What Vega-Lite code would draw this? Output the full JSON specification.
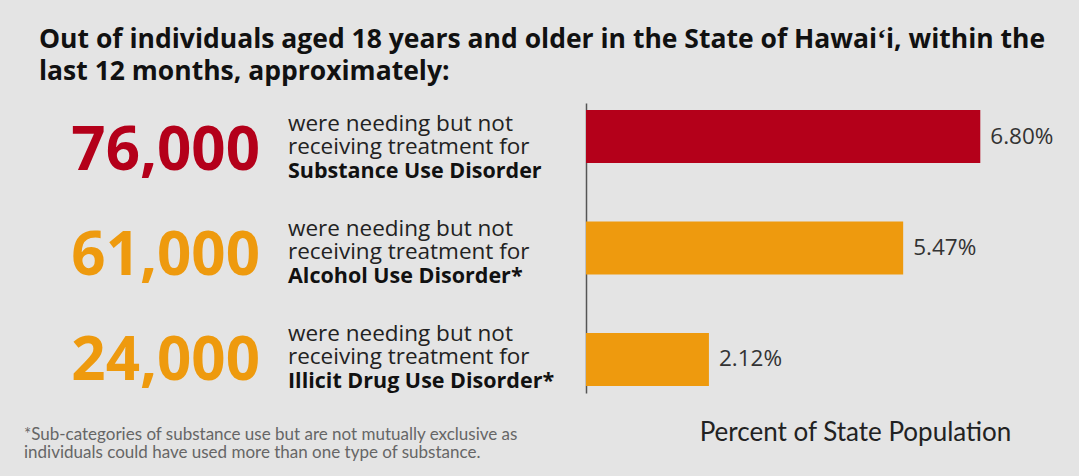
{
  "$schema": "https://vega.github.io/schema/vega-lite/v6.json",
  "background": "#e4e4e4",
  "padding": {"left": 24, "top": 26, "right": 10, "bottom": 18},
  "bounds": "flush",
  "spacing": 28,
  "title": {
    "text": ["Out of individuals aged 18 years and older in the State of Hawaiʻi, within the", "last 12 months, approximately:"],
    "anchor": "start",
    "frame": "group",
    "dx": 15,
    "font": "Open Sans",
    "fontSize": 26.5,
    "fontWeight": "bold",
    "color": "#111111",
    "lineHeight": 32,
    "offset": 18
  },
  "data": {
    "values": [
      {"condition": "Substance Use Disorder", "people": 76000, "share": 0.068},
      {"condition": "Alcohol Use Disorder*", "people": 61000, "share": 0.0547},
      {"condition": "Illicit Drug Use Disorder*", "people": 24000, "share": 0.0212}
    ]
  },
  "resolve": {"scale": {"x": "independent", "y": "independent"}},
  "hconcat": [
    {
      "width": 236,
      "height": 294,
      "title": {
        "text": ["*Sub-categories of substance use but are not mutually exclusive as", "individuals could have used more than one type of substance."],
        "orient": "bottom",
        "anchor": "start",
        "frame": "group",
        "font": "Lato",
        "fontSize": 17,
        "fontWeight": "normal",
        "color": "#666666",
        "lineHeight": 18,
        "offset": 30
      },
      "mark": {"type": "text", "font": "Open Sans", "fontSize": 60, "fontWeight": "bold", "align": "right", "baseline": "middle", "dy": 7},
      "encoding": {
        "x": {"value": "width"},
        "y": {"field": "condition", "type": "nominal", "sort": null, "scale": {"type": "point", "padding": 0.4}, "axis": null},
        "text": {"field": "people", "type": "quantitative", "format": ","},
        "color": {
          "field": "condition", "type": "nominal", "sort": null,
          "scale": {"domain": ["Substance Use Disorder", "Alcohol Use Disorder*", "Illicit Drug Use Disorder*"], "range": ["#b4001a", "#ee9a0e", "#ee9a0e"]},
          "legend": null
        }
      }
    },
    {
      "width": 270,
      "height": 294,
      "layer": [
        {
          "mark": {"type": "text", "text": "were needing but not\nreceiving treatment for", "lineBreak": "\n", "font": "Open Sans", "fontSize": 22.5, "lineHeight": 23.5, "color": "#222222", "align": "left", "baseline": "alphabetic", "dy": -14.5},
          "encoding": {
            "x": {"value": 0},
            "y": {"field": "condition", "type": "nominal", "sort": null, "scale": {"type": "point", "padding": 0.4}, "axis": null}
          }
        },
        {
          "mark": {"type": "text", "font": "Open Sans", "fontSize": 21.5, "fontWeight": "bold", "color": "#111111", "align": "left", "baseline": "alphabetic", "dy": 32.5},
          "encoding": {
            "x": {"value": 0},
            "y": {"field": "condition", "type": "nominal", "sort": null, "scale": {"type": "point", "padding": 0.4}, "axis": null},
            "text": {"field": "condition", "type": "nominal"}
          }
        }
      ]
    },
    {
      "width": 483,
      "height": 290,
      "encoding": {
        "y": {
          "field": "condition", "type": "nominal", "sort": null,
          "scale": {"paddingInner": 0.525, "paddingOuter": 0.063},
          "axis": {"domain": true, "domainColor": "#555555", "domainWidth": 1.5, "ticks": false, "labels": false, "grid": false, "title": null}
        },
        "x": {
          "field": "share", "type": "quantitative",
          "scale": {"domain": [0, 0.0833], "nice": false},
          "axis": {"domain": false, "ticks": false, "labels": false, "grid": false, "title": "Percent of State Population", "titleFont": "Lato", "titleFontSize": 26, "titleFontWeight": "normal", "titleColor": "#222222", "titleX": 269, "titleY": 39, "titleBaseline": "middle", "titleAlign": "center"}
        }
      },
      "layer": [
        {
          "mark": {"type": "bar"},
          "encoding": {
            "color": {
              "field": "condition", "type": "nominal", "sort": null,
              "scale": {"domain": ["Substance Use Disorder", "Alcohol Use Disorder*", "Illicit Drug Use Disorder*"], "range": ["#b4001a", "#ee9a0e", "#ee9a0e"]},
              "legend": null
            }
          }
        },
        {
          "mark": {"type": "text", "align": "left", "baseline": "middle", "dx": 10, "font": "Open Sans", "fontSize": 22.5, "color": "#333333"},
          "encoding": {
            "text": {"field": "share", "type": "quantitative", "format": ".2%"}
          }
        }
      ]
    }
  ],
  "config": {
    "view": {"stroke": null, "fill": "#e4e4e4"}
  }
}
